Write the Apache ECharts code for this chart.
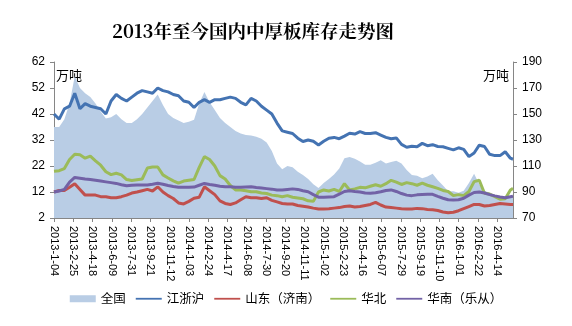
<!DOCTYPE html>
<html><head><meta charset="utf-8">
<script src="https://cdn.jsdelivr.net/npm/echarts@6/dist/echarts.min.js"></script>
<style>html,body{margin:0;padding:0;background:#fff}#c{width:572px;height:326px}</style>
</head><body><div id="c"></div>
<script>
// ---- data (weekly report dates, sampled every two weeks) ----
const START = '2013-01-04';
const sampleWeeks = [];
for (let w = 0; w <= 176; w += 2) sampleWeeks.push(w);
sampleWeeks.push(177);

const seriesNames = ['全国', '江浙沪', '山东（济南）', '华北', '华南（乐从）'];

// 全国 (right axis, 万吨)
const national = [140,140,146,158,179,170,166,163,158,152,
  146.5,147.5,150,146,143,143,146,150,155,160,
  165,157,150,147,145,143,144,145.5,158,167,
  159,153,147,143,140,137,135,133.8,133.5,132.5,
  131,128,121.5,112,107.5,110,109,105.5,103,100,
  96,93,97,100,103.5,108,116,117,115.5,113.5,
  111,111,112.5,114.5,112,113,114,112,107,103,
  102.5,100.5,102,104,99,95,90.5,90.5,89.5,91,
  97,104,96,91,89.5,87,86,85.5,85.5,85.5];
// 江浙沪 (left axis)
const jiangzhehu = [42,40,44,45,50,44,46,45,44.5,44,
  42,47,49.5,48,47,48.5,50,51,50.5,50,
  52,51,50.5,49.5,49,47,46.5,44.5,46.5,47.5,
  46.5,47.5,47.5,48,48.5,48,46.5,45.5,48,47,
  45,43.5,42,38.5,35.5,35,34.5,32.7,31.4,32,
  31.5,30.1,31.5,32.7,33,32.5,33.5,34.6,34.3,35.2,
  34.5,34.5,34.8,33.9,33,32.5,32.8,30.3,29.2,29.6,
  29.4,30.7,29.8,30.2,29.5,29.4,28.8,28.2,29,28.4,
  25.6,27,30,29.5,26.5,26,26,27.5,25,24.6];
// 山东（济南）
const shandong = [12,12.6,12.6,13.8,15.2,13,10.8,10.8,10.8,10.2,
  10.2,9.8,9.8,10.2,10.8,11.6,12,12.5,13,12.4,
  14,12,10.6,9.5,7.8,7.4,8.4,9.6,10,14,
  12.5,11,8.6,7.6,7.2,7.8,9,10.2,9.8,9.8,
  9.5,9.8,8.8,8.2,7.6,7.4,7.4,6.8,6.5,6.2,
  5.8,5.5,5.5,5.6,5.8,6,6.4,6.6,6.2,6.4,
  6.8,7.2,8,7,6.2,6,5.8,5.6,5.5,5.5,
  5.7,5.6,5.3,5.2,4.9,4.3,4,4.2,4.8,5.6,
  6.4,7.2,7.2,6.6,6.8,7.2,7.6,7.4,7.2,7.2];
// 华北
const huabei = [20,20.2,21,24.5,26.5,26.3,25,25.8,24,22.3,
  19.8,18.7,19.2,18.6,16.8,16.4,16.7,17,21.2,21.6,
  21.6,18.6,17.4,16.3,15.4,16.2,16.5,16.8,21.5,25.6,
  24.5,22,18.3,17,14.5,12.8,12.8,12.5,12.1,12.1,
  11.6,11.4,10.8,10.6,10.2,10.6,10,9.7,9.4,8.6,
  8.4,12,12.8,12.4,13,12.2,15.2,12.8,13.2,13.8,
  13.6,14.2,14.8,14.2,15.2,16.5,15.8,14.9,15.6,15.2,
  14.6,15.4,14.6,14,13.4,12.6,12.2,10.6,11,10.6,
  12.2,16,16.5,11.5,11.2,10.2,9.2,9.4,12.8,13.4];
// 华南（乐从）
const huanan = [12,12.4,13,15.8,17.6,17.3,17,16.8,16.5,16.2,
  15.9,15.6,15.3,14.8,14.4,14.6,14.7,14.7,14.7,15,
  15.4,15,14.5,14.1,13.8,13.8,13.8,13.9,14.6,15.3,
  14.9,14.6,14.2,14,14,13.8,13.8,13.9,14,13.7,
  13.5,13.3,13.1,12.8,12.8,13,13.2,13,12.5,12.1,
  11,10,10,10.1,10.2,11.2,12.2,12.5,12.2,12,
  11.6,11.5,11.7,12.1,12.6,12.8,12.2,11.4,10.8,10.6,
  10.9,11,11.1,11.1,10.3,9.6,9,8.9,9,9.6,
  10.8,11.8,12,11.6,11,10.5,10.1,9.8,10.2,10.4];

const leftTicks = {min: 2, max: 62, interval: 10};
const rightTicks = {min: 70, max: 190, interval: 20};
const labelStepDays = 52;

// ---- build ----
const DAY = 86400000;
const t0 = Date.UTC(2013, 0, 4);
const dayOffsets = sampleWeeks.map(w => w * 7);
const maxDay = dayOffsets[dayOffsets.length - 1];
function fmtDay(v) {
  if (v % labelStepDays !== 0) return '';
  const d = new Date(t0 + v * DAY);
  return d.getUTCFullYear() + '-' + (d.getUTCMonth() + 1) + '-' + String(d.getUTCDate()).padStart(2, '0');
}
const pairs = arr => arr.map((v, i) => [dayOffsets[i], v]);

const colors = {
  area: '#b9cde5', jzh: '#4473b2', sd: '#c0504d', hb: '#9bbb59', hn: '#7262a6'
};
const axisGray = '#868686';
const cjk = "'Noto Sans CJK SC', sans-serif";
const lineIcon = 'path://M0,0 M26,7 M0,2.6 L26,2.6 L26,4.4 L0,4.4 Z';

function lineSeries(name, data, color) {
  return {
    name, type: 'line', yAxisIndex: 0, data: pairs(data),
    symbol: 'none', showSymbol: false, smooth: false,
    lineStyle: {color, width: 3}, itemStyle: {color},
    emphasis: {disabled: true}, animation: false
  };
}

const chart = echarts.init(document.getElementById('c'), null, {renderer: 'canvas'});
chart.setOption({
  animation: false,
  backgroundColor: '#fff',
  grid: {left: 54, right: 59, top: 62, bottom: 108, containLabel: false, outerBoundsMode: 'none'},
  graphic: [
    {type: 'text', x: 253, y: 31,
     style: {text: '2013年至今国内中厚板库存走势图', x: 0, y: 0, align: 'center', verticalAlign: 'middle',
       font: "bold 18.5px 'Noto Serif CJK SC', 'Noto Sans CJK SC', serif", fill: '#000'}},
    {type: 'text', x: 56, y: 75,
     style: {text: '万吨', align: 'left', verticalAlign: 'middle', font: "13px " + cjk, fill: '#000'}},
    {type: 'text', x: 483, y: 75,
     style: {text: '万吨', align: 'left', verticalAlign: 'middle', font: "13px " + cjk, fill: '#000'}}
  ],
  legend: {
    bottom: 16, left: 'center', itemWidth: 26, itemHeight: 7, itemGap: 10,
    textStyle: {fontSize: 12.5, color: '#000', fontFamily: cjk},
    data: [
      {name: '全国', icon: 'rect'},
      {name: '江浙沪', icon: lineIcon}, {name: '山东（济南）', icon: lineIcon},
      {name: '华北', icon: lineIcon}, {name: '华南（乐从）', icon: lineIcon}
    ]
  },
  xAxis: {
    type: 'value', min: 0, max: maxDay, interval: labelStepDays,
    splitLine: {show: false},
    axisLine: {show: true, onZero: false, lineStyle: {color: axisGray, width: 1}},
    axisTick: {show: true, length: 4, lineStyle: {color: axisGray}},
    axisLabel: {rotate: -90, margin: 8, fontSize: 11, color: '#000', fontFamily: "'Liberation Sans', sans-serif",
      formatter: fmtDay, showMaxLabel: false, showMinLabel: true, hideOverlap: false}
  },
  yAxis: [
    {type: 'value', min: leftTicks.min, max: leftTicks.max, interval: leftTicks.interval, position: 'left',
     splitLine: {show: false},
     axisLine: {show: true, lineStyle: {color: axisGray}},
     axisTick: {show: true, length: 4, lineStyle: {color: axisGray}},
     axisLabel: {fontSize: 12, color: '#000', margin: 9, fontFamily: "'Liberation Sans', sans-serif"}},
    {type: 'value', min: rightTicks.min, max: rightTicks.max, interval: rightTicks.interval, position: 'right',
     splitLine: {show: false},
     axisLine: {show: true, lineStyle: {color: axisGray}},
     axisTick: {show: true, length: 4, lineStyle: {color: axisGray}},
     axisLabel: {fontSize: 12, color: '#000', margin: 9, fontFamily: "'Liberation Sans', sans-serif"}}
  ],
  series: [
    {name: '全国', type: 'line', yAxisIndex: 1, data: pairs(national), symbol: 'none', showSymbol: false,
     lineStyle: {width: 0, color: colors.area}, itemStyle: {color: colors.area},
     areaStyle: {color: colors.area, opacity: 1}, emphasis: {disabled: true}, z: 1},
    lineSeries('江浙沪', jiangzhehu, colors.jzh),
    lineSeries('山东（济南）', shandong, colors.sd),
    lineSeries('华北', huabei, colors.hb),
    lineSeries('华南（乐从）', huanan, colors.hn)
  ]
});
</script></body></html>
